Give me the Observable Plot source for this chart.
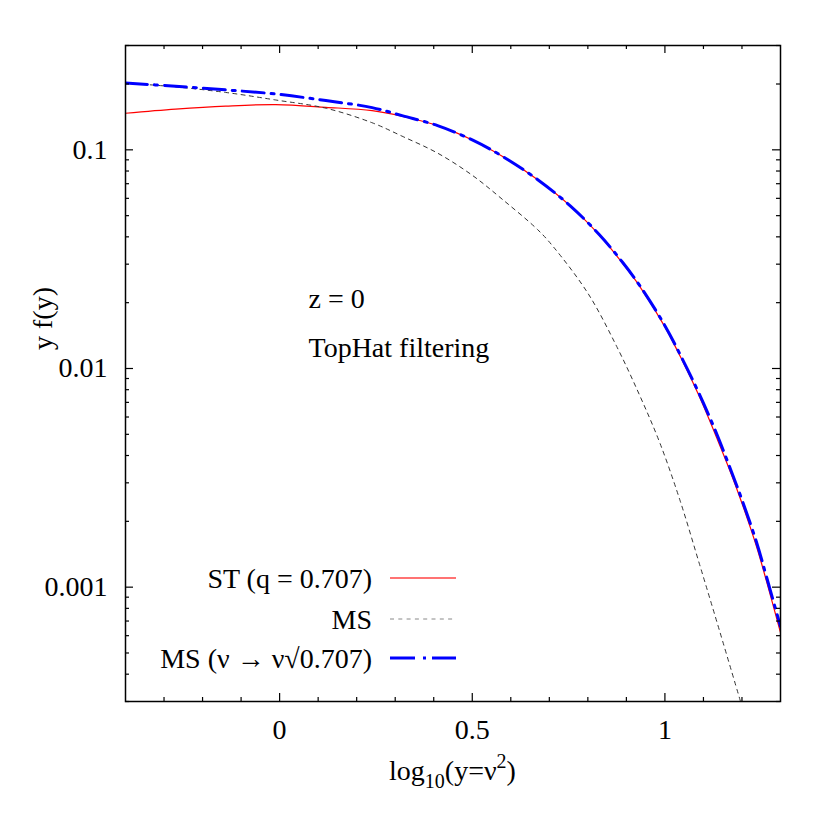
<!DOCTYPE html>
<html><head><meta charset="utf-8">
<script src="https://cdn.jsdelivr.net/npm/d3@7"></script>
<script src="https://cdn.jsdelivr.net/npm/@observablehq/plot@0.6"></script>
<style>
body{margin:0;background:#fff;}
#chart{position:absolute;left:0;top:0;}
</style></head><body><div id="chart"></div>
<script>
// ---- data ----
const stX  = [-0.4, -0.27, -0.14, -0.01, 0.12, 0.24, 0.32, 0.41, 0.5, 0.58, 0.67, 0.755, 0.83, 0.89, 0.935, 1.0, 1.047, 1.09, 1.137, 1.173, 1.2, 1.238, 1.264, 1.3];
const stY  = [0.147, 0.1535, 0.1585, 0.161, 0.1565, 0.151, 0.142, 0.129, 0.111, 0.093, 0.0730, 0.0553, 0.0407, 0.0303, 0.0237, 0.0155, 0.0107, 0.0074, 0.0047, 0.00326, 0.00242, 0.00153, 0.00106, 0.00062];
const msX  = [-0.4, -0.27, -0.14, -0.01, 0.12, 0.24, 0.32, 0.41, 0.5, 0.58, 0.67, 0.71, 0.8, 0.875, 0.935, 0.987, 1.039, 1.09, 1.142, 1.196];
const msY  = [0.202, 0.194, 0.183, 0.169, 0.155, 0.133, 0.115, 0.0966, 0.0765, 0.059, 0.0431, 0.0361, 0.0221, 0.0126, 0.0075, 0.00456, 0.0025, 0.00127, 0.00063, 0.000301];
const msqX = [-0.4, -0.27, -0.14, -0.01, 0.12, 0.24, 0.32, 0.41, 0.5, 0.58, 0.67, 0.755, 0.83, 0.89, 0.935, 1.0, 1.047, 1.09, 1.137, 1.173, 1.2, 1.238, 1.264, 1.3];
const msqY = [0.202, 0.1954, 0.188, 0.180, 0.168, 0.156, 0.143, 0.129, 0.111, 0.093, 0.0730, 0.0553, 0.0409, 0.0306, 0.0239, 0.0157, 0.0109, 0.0076, 0.0049, 0.00336, 0.00251, 0.0016, 0.00111, 0.00066];

const seriesNames = ["ST (q = 0.707)", "MS", "MS (ν → ν√0.707)"];
const annotations = ["z = 0", "TopHat filtering"];
const yLabel = "y f(y)";
const xLabelParts = ["log", "10", "(y=ν", "2", ")"];

const xDomain = [-0.4, 1.3];
const yDomain = [0.0003, 0.3];
const xMajorTicks = [0, 0.5, 1];
const xMinorTicks = [-0.3, -0.2, -0.1, 0.1, 0.2, 0.3, 0.4, 0.6, 0.7, 0.8, 0.9, 1.1, 1.2];
const yMajorTicks = [0.001, 0.01, 0.1];
const yMinorTicks = [0.0003, 0.0004, 0.0005, 0.0006, 0.0007, 0.0008, 0.0009,
                     0.002, 0.003, 0.004, 0.005, 0.006, 0.007, 0.008, 0.009,
                     0.02, 0.03, 0.04, 0.05, 0.06, 0.07, 0.08, 0.09, 0.2, 0.3];

// ---- styles ----
const styles = [
  {stroke: "#ff0000", strokeWidth: 1.2},
  {stroke: "#333333", strokeWidth: 1, strokeDasharray: "4,4.3"},
  {stroke: "#0000ff", strokeWidth: 3, strokeDasharray: "22,7,3,7"}
];
const legendStyles = [
  {stroke: "#ff4444", strokeWidth: 1.3},
  {stroke: "#888888", strokeWidth: 1, strokeDasharray: "4,4.3"},
  {stroke: "#0000ff", strokeWidth: 3, strokeDasharray: "25,8,3,6"}
];

const rows = (xs, ys) => xs.map((x, i) => ({x, y: ys[i]}));
const series = [rows(stX, stY), rows(msX, msY), rows(msqX, msqY)];

const W = 830, H = 830, mL = 125, mR = 50, mT = 45, mB = 129;
const fW = W - mL - mR, fH = H - mT - mB;
const FONT = "'Liberation Serif', 'Times New Roman', serif";
const FS = 28;

function legendMark(index, scales, values, dims) {
  const g = d3.create("svg:g").attr("font-family", FONT).attr("font-size", FS);
  const rowY = [578, 619, 658];
  seriesNames.forEach((name, i) => {
    g.append("text").attr("x", 372).attr("y", rowY[i]).attr("dy", "0.34em")
      .attr("text-anchor", "end").attr("fill", "#000").text(name);
    const s = legendStyles[i];
    g.append("line").attr("x1", 390).attr("x2", 456).attr("y1", rowY[i]).attr("y2", rowY[i])
      .attr("stroke", s.stroke).attr("stroke-width", s.strokeWidth)
      .attr("stroke-dasharray", s.strokeDasharray || null);
  });
  return g.node();
}

function xLabelMark(index, scales, values, dims) {
  const cx = (dims.marginLeft + dims.width - dims.marginRight) / 2;
  const t = d3.create("svg:text").attr("x", cx).attr("y", dims.height - dims.marginBottom + 79)
    .attr("text-anchor", "middle").attr("font-family", FONT).attr("font-size", FS).attr("fill", "#000");
  t.append("tspan").text(xLabelParts[0]);
  t.append("tspan").attr("font-size", 20).attr("dy", 8).text(xLabelParts[1]);
  t.append("tspan").attr("dy", -8).text(xLabelParts[2]);
  t.append("tspan").attr("font-size", 20).attr("dy", -12).text(xLabelParts[3]);
  t.append("tspan").attr("dy", 12).text(xLabelParts[4]);
  const g = d3.create("svg:g");
  g.append(() => t.node());
  return g.node();
}

const tickMarks = [
  Plot.tickX(xMajorTicks, {x: d => d, insetTop: fH - 8, stroke: "#000", strokeWidth: 1.2}),
  Plot.tickX(xMajorTicks, {x: d => d, insetBottom: fH - 8, stroke: "#000", strokeWidth: 1.2}),
  Plot.tickX(xMinorTicks, {x: d => d, insetTop: fH - 4, stroke: "#000", strokeWidth: 1.2}),
  Plot.tickX(xMinorTicks, {x: d => d, insetBottom: fH - 4, stroke: "#000", strokeWidth: 1.2}),
  Plot.tickY(yMajorTicks, {y: d => d, insetRight: fW - 8, stroke: "#000", strokeWidth: 1.2}),
  Plot.tickY(yMajorTicks, {y: d => d, insetLeft: fW - 8, stroke: "#000", strokeWidth: 1.2}),
  Plot.tickY(yMinorTicks, {y: d => d, insetRight: fW - 4, stroke: "#000", strokeWidth: 1.2}),
  Plot.tickY(yMinorTicks, {y: d => d, insetLeft: fW - 4, stroke: "#000", strokeWidth: 1.2})
];

const chart = Plot.plot({
  width: W, height: H,
  marginLeft: mL, marginRight: mR, marginTop: mT, marginBottom: mB,
  style: {fontFamily: FONT, fontSize: FS + "px", color: "#000", background: "#fff", overflow: "visible"},
  x: {domain: xDomain},
  y: {type: "log", domain: yDomain},
  marks: [
    ...series.map((data, i) => Plot.line(data, {x: "x", y: "y", curve: "catmull-rom", clip: true, ...styles[i]})),
    Plot.frame({stroke: "#000", strokeWidth: 1.5}),
    ...tickMarks,
    Plot.axisX(xMajorTicks, {anchor: "bottom", tickSize: 0, tickPadding: 18, tickFormat: d => String(d), label: null, fontSize: FS}),
    Plot.axisY(yMajorTicks, {anchor: "left", tickSize: 0, tickPadding: 18, tickFormat: d => String(d), label: null, fontSize: FS}),
    Plot.text([annotations[0]], {text: d => d, frameAnchor: "top-left", dx: 183, dy: 254, textAnchor: "start", lineAnchor: "middle", fontSize: FS}),
    Plot.text([annotations[1]], {text: d => d, frameAnchor: "top-left", dx: 183, dy: 303, textAnchor: "start", lineAnchor: "middle", fontSize: FS}),
    Plot.text([yLabel], {text: d => d, frameAnchor: "left", dx: -82, dy: -55, rotate: -90, textAnchor: "middle", lineAnchor: "middle", fontSize: FS}),
    xLabelMark,
    legendMark
  ]
});
document.getElementById("chart").appendChild(chart);
</script>
</body></html>
